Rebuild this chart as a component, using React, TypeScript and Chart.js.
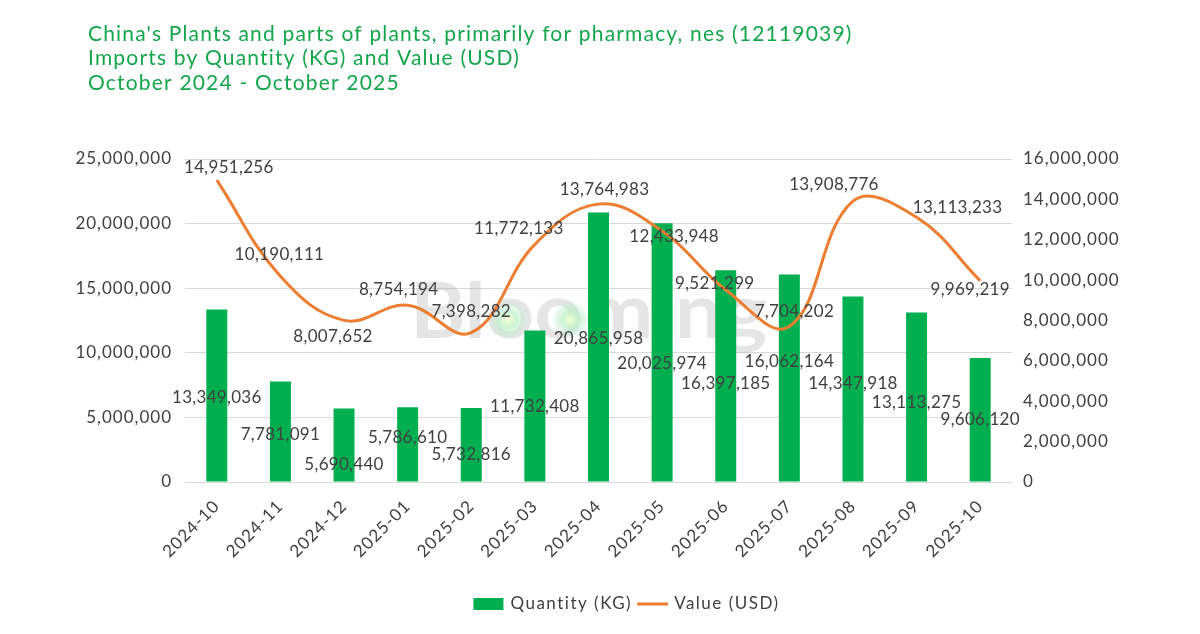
import React, { useEffect, useRef } from 'react';
import { Chart, registerables } from 'chart.js';

Chart.register(...registerables);

// ---------- data ----------
const categories = [
  '2024-10', '2024-11', '2024-12', '2025-01', '2025-02', '2025-03', '2025-04',
  '2025-05', '2025-06', '2025-07', '2025-08', '2025-09', '2025-10',
];
const quantityKg = [
  13349036, 7781091, 5690440, 5786610, 5732816, 11732408, 20865958,
  20025974, 16397185, 16062164, 14347918, 13113275, 9606120,
];
const valueUsd = [
  14951256, 10190111, 8007652, 8754194, 7398282, 11772133, 13764983,
  12433948, 9521299, 7704202, 13908776, 13113233, 9969219,
];
const titleLines = [
  "China's Plants and parts of plants, primarily for pharmacy, nes (12119039)",
  'Imports by Quantity (KG) and Value (USD)',
  'October 2024 - October 2025',
];
const seriesNames = ['Quantity (KG)', 'Value (USD)'];
const watermarkText = 'Blooming';
const leftAxisMax = 25000000;
const leftAxisStep = 5000000;
const rightAxisMax = 16000000;
const rightAxisStep = 2000000;

// ---------- label placement (px nudges, as in the reference) ----------
const barLabelNudgeY = [2, 3, 20, -7, 10, 1, -8, 11, 8, -16, -6, 5, 0];
const lineLabelNudge: [number, number][] = [
  [12, -13], [-1, -22], [-11, 16], [-9, -16], [0, -21], [-16, -16], [6, -15],
  [12, 6], [-11, -6], [5, -15], [-19, -17], [41, -10], [-10, 9],
];

// ---------- styles ----------
const FONT = "Lato, 'Noto Sans', sans-serif";
const TEXT = '#404040';
const TITLE_GREEN = '#14a64b';
const BAR_GREEN = '#00b050';
const LINE_ORANGE = '#ed7d31';

const fmt = (v: number) => Number(v).toLocaleString('en-US');

const setSpacing = (ctx: any, px: number) => {
  if ('letterSpacing' in ctx) ctx.letterSpacing = `${px}px`;
};

const decorPlugin = {
  id: 'decor',
  beforeDraw(chart: any) {
    // axis text spacing (Century Gothic-like width)
    setSpacing(chart.ctx, 1);
  },
  beforeDatasetsDraw(chart: any) {
    const ctx = chart.ctx as CanvasRenderingContext2D;
    ctx.save();
    setSpacing(ctx, 0);
    // watermark
    ctx.font = `bold 76px ${FONT}`;
    ctx.fillStyle = 'rgba(150,150,150,0.25)';
    ctx.textAlign = 'left';
    ctx.textBaseline = 'alphabetic';
    const w = ctx.measureText(watermarkText).width;
    ctx.translate(410, 338);
    ctx.scale(357 / w, 1);
    ctx.fillText(watermarkText, 0, 0);
    ctx.setTransform(1, 0, 0, 1, 0, 0);
    const glows = [[508, 320], [571, 320]];
    glows.forEach(([gx, gy]) => {
      const g = ctx.createRadialGradient(gx, gy, 0, gx, gy, 19);
      g.addColorStop(0, 'rgba(248,255,205,0.95)');
      g.addColorStop(0.45, 'rgba(185,240,200,0.7)');
      g.addColorStop(1, 'rgba(170,230,200,0)');
      ctx.fillStyle = g;
      ctx.beginPath();
      ctx.arc(gx, gy, 19, 0, Math.PI * 2);
      ctx.fill();
    });
    ctx.restore();
  },
  afterDatasetsDraw(chart: any) {
    const ctx = chart.ctx as CanvasRenderingContext2D;
    ctx.save();
    setSpacing(ctx, 0.3);
    ctx.font = `17px ${FONT}`;
    ctx.fillStyle = TEXT;
    ctx.textAlign = 'center';
    ctx.textBaseline = 'middle';
    const barMeta = chart.getDatasetMeta(0);
    barMeta.data.forEach((el: any, i: number) => {
      const p = el.getProps(['x', 'y', 'base'], true);
      ctx.fillText(fmt(quantityKg[i]), p.x, (p.y + p.base) / 2 + barLabelNudgeY[i]);
    });
    const lineMeta = chart.getDatasetMeta(1);
    lineMeta.data.forEach((el: any, i: number) => {
      const p = el.getProps(['x', 'y'], true);
      ctx.fillText(fmt(valueUsd[i]), p.x + lineLabelNudge[i][0], p.y + lineLabelNudge[i][1]);
    });
    ctx.restore();
  },
  afterDraw(chart: any) {
    const ctx = chart.ctx as CanvasRenderingContext2D;
    ctx.save();
    // title
    setSpacing(ctx, 1.18);
    ctx.font = `21px ${FONT}`;
    ctx.fillStyle = TITLE_GREEN;
    ctx.textAlign = 'left';
    ctx.textBaseline = 'middle';
    titleLines.forEach((t, i) => ctx.fillText(t, 88, 34 + i * 24.5));
    // legend
    setSpacing(ctx, 1.5);
    ctx.font = `17px ${FONT}`;
    const w1 = ctx.measureText(seriesNames[0]).width;
    const w2 = ctx.measureText(seriesNames[1]).width;
    const total = 30 + 7 + w1 + 5 + 31 + 6 + w2;
    let x = 626.5 - total / 2;
    const cy = 604;
    ctx.fillStyle = BAR_GREEN;
    ctx.fillRect(x, cy - 6, 30, 12);
    x += 37;
    ctx.fillStyle = TEXT;
    ctx.fillText(seriesNames[0], x, cy);
    x += w1 + 5;
    ctx.strokeStyle = LINE_ORANGE;
    ctx.lineWidth = 3;
    ctx.beginPath();
    ctx.moveTo(x, cy);
    ctx.lineTo(x + 31, cy);
    ctx.stroke();
    x += 37;
    ctx.fillStyle = TEXT;
    ctx.fillText(seriesNames[1], x, cy);
    ctx.restore();
    setSpacing(ctx, 0);
  },
};

export default function App() {
  const canvasRef = useRef<HTMLCanvasElement | null>(null);

  useEffect(() => {
    document.body.style.margin = '0';
    const canvas = canvasRef.current;
    if (!canvas) return;
    Chart.defaults.font.family = FONT;
    Chart.defaults.color = TEXT;
    const chart = new Chart(canvas, {
      type: 'bar',
      data: {
        labels: categories,
        datasets: [
          {
            type: 'bar',
            label: seriesNames[0],
            data: quantityKg,
            backgroundColor: BAR_GREEN,
            yAxisID: 'y',
            categoryPercentage: 1,
            barPercentage: 0.33,
            order: 2,
          },
          {
            type: 'line',
            label: seriesNames[1],
            data: valueUsd,
            borderColor: LINE_ORANGE,
            backgroundColor: LINE_ORANGE,
            borderWidth: 3,
            pointRadius: 0,
            tension: 0.4,
            yAxisID: 'y1',
            order: 1,
          },
        ],
      },
      options: {
        responsive: false,
        animation: false,
        devicePixelRatio: 1,
        layout: { padding: { top: 159, left: 0, right: 0, bottom: 0 } },
        plugins: {
          legend: { display: false },
          title: { display: false },
          tooltip: { enabled: false },
        },
        scales: {
          x: {
            grid: { display: false },
            border: { display: false },
            ticks: {
              font: { size: 17 },
              color: TEXT,
              minRotation: 45,
              maxRotation: 45,
              padding: 6,
            },
            afterFit: (s: any) => { s.height = 152; },
          },
          y: {
            position: 'left',
            min: 0,
            max: leftAxisMax,
            grid: { color: '#d9d9d9', drawTicks: false, lineWidth: 1 },
            border: { display: false },
            ticks: {
              stepSize: leftAxisStep,
              font: { size: 17 },
              color: TEXT,
              padding: 13,
              callback: (v: any) => fmt(v),
            },
            afterFit: (s: any) => { s.width = 185; },
          },
          y1: {
            position: 'right',
            min: 0,
            max: rightAxisMax,
            grid: { display: false, drawTicks: false },
            border: { display: false },
            ticks: {
              stepSize: rightAxisStep,
              font: { size: 17 },
              color: TEXT,
              padding: 11,
              callback: (v: any) => fmt(v),
            },
            afterFit: (s: any) => { s.width = 188; },
          },
        },
      } as any,
      plugins: [decorPlugin],
    });
    return () => chart.destroy();
  }, []);

  return (
    <div style={{ width: 1200, height: 634, background: '#fff' }}>
      <canvas ref={canvasRef} width={1200} height={634} style={{ display: 'block' }} />
    </div>
  );
}
